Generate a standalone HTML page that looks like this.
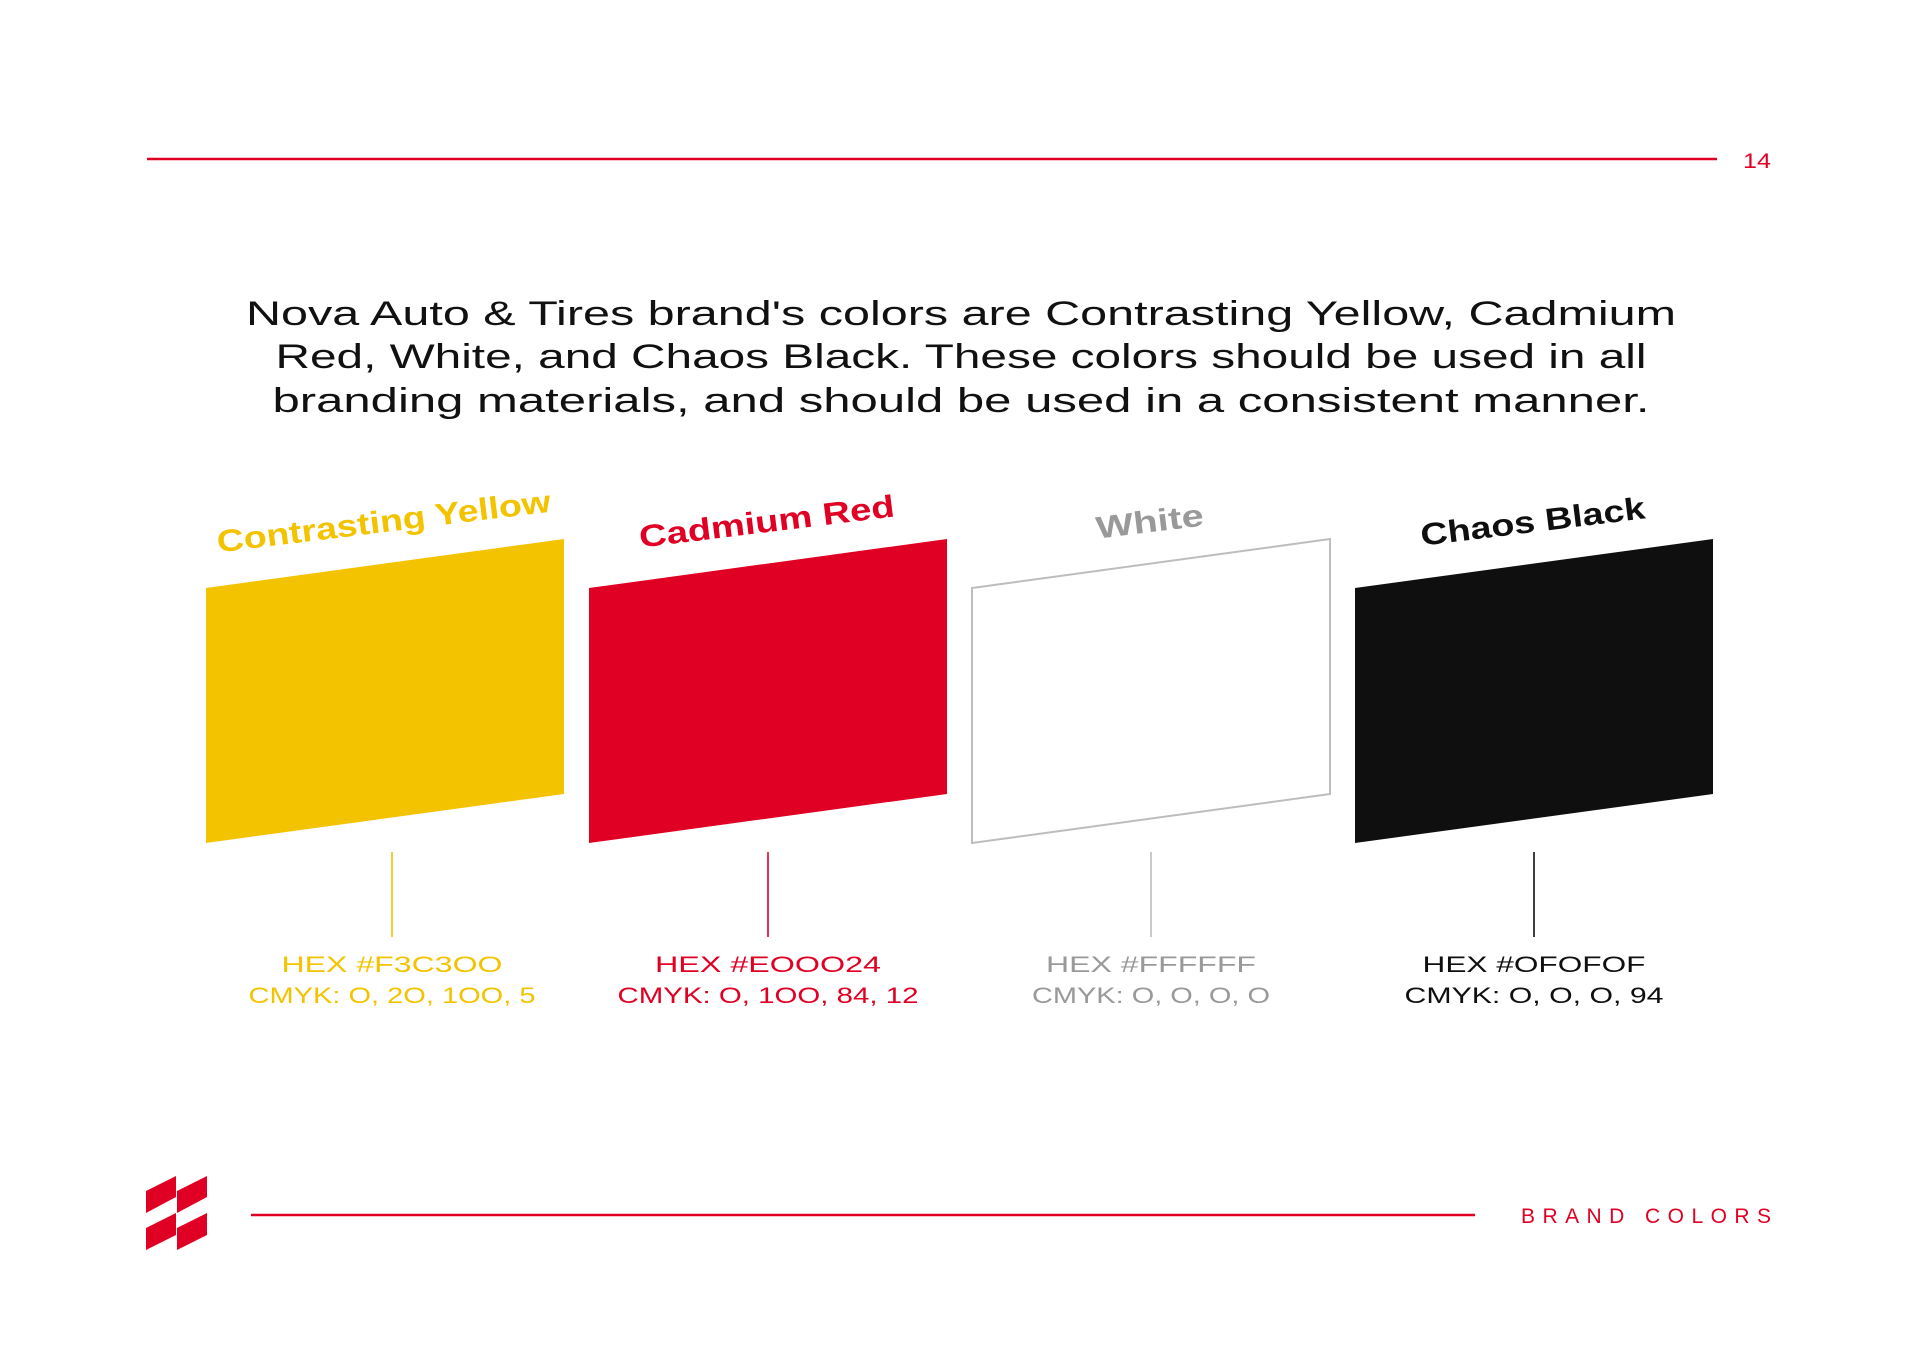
<!DOCTYPE html>
<html><head><meta charset="utf-8"><style>
html,body{margin:0;padding:0;background:#fff;}
svg{display:block;}
</style></head><body>
<svg id="page" width="1920" height="1369" viewBox="0 0 1920 1369" xmlns="http://www.w3.org/2000/svg" font-family="'Liberation Sans', sans-serif">
  <line x1="147" y1="159" x2="1717" y2="159" stroke="#E00024" stroke-width="2.5"/>
  <text x="1743" y="168" font-size="21" fill="#E00024" textLength="28" lengthAdjust="spacingAndGlyphs">14</text>

  <g font-size="34" fill="#111" text-anchor="middle">
    <text x="961" y="325" textLength="1430" lengthAdjust="spacingAndGlyphs">Nova Auto &amp; Tires brand's colors are Contrasting Yellow, Cadmium</text>
    <text x="961" y="368" textLength="1371" lengthAdjust="spacingAndGlyphs">Red, White, and Chaos Black. These colors should be used in all</text>
    <text x="961" y="412" textLength="1377" lengthAdjust="spacingAndGlyphs">branding materials, and should be used in a consistent manner.</text>
  </g>

  <g id="swatches"></g>

  <g fill="#E00024">
    <polygon points="146,1191 176,1176 176,1197 146,1213"/>
    <polygon points="177,1191 207,1176 207,1197 177,1213"/>
    <polygon points="146,1228 176,1213 176,1235 146,1250"/>
    <polygon points="177,1228 207,1213 207,1235 177,1250"/>
  </g>
  <line x1="251" y1="1215" x2="1475" y2="1215" stroke="#E00024" stroke-width="2.5"/>
  <text x="1521" y="1223" font-size="21" fill="#E00024" textLength="250" lengthAdjust="spacing">BRAND COLORS</text>
</svg>
<script>
const names = ['Contrasting Yellow', 'Cadmium Red', 'White', 'Chaos Black'];
const hexes = ['#F3C300', '#E00024', '#FFFFFF', '#0F0F0F'];
const cmyks = ['0, 20, 100, 5', '0, 100, 84, 12', '0, 0, 0, 0', '0, 0, 0, 94'];
const textColors = ['#F3C300', '#E00024', '#999999', '#0F0F0F'];
const titleWidths = [336, 257, 108, 226];
const hexWidths = [221, 226, 210, 223];
const cmykWidths = [287, 301, 238, 259];

const NS = 'http://www.w3.org/2000/svg';
const g = document.getElementById('swatches');
function xPos(i){ return 206 + i * 383; }
function mk(tag, attrs){ const e=document.createElementNS(NS,tag); for(const k in attrs) e.setAttribute(k,attrs[k]); return e; }

names.forEach((nm,i)=>{
  const x0 = xPos(i), w = 358, cx = x0 + w/2;
  const sx = cx + (i === 0 ? 7 : 0);
  const isWhite = hexes[i] === '#FFFFFF';
  const poly = mk('polygon',{points:`${x0},588 ${x0+w},539 ${x0+w},794 ${x0},843`,
    fill: hexes[i], stroke: isWhite ? '#BDBDBD' : 'none', 'stroke-width': isWhite ? 2 : 0});
  
  
  g.appendChild(poly);

  const t = mk('text',{x:cx, y:532, 'font-size':31, 'font-weight':'bold', fill:textColors[i],
    'text-anchor':'middle', textLength:titleWidths[i], lengthAdjust:'spacingAndGlyphs',
    transform:`rotate(-7 ${cx} 532)`});
  t.textContent = nm;
  
  
  g.appendChild(t);

  const stem = mk('line',{x1:sx, y1:852, x2:sx, y2:937, stroke: isWhite ? '#BDBDBD' : hexes[i], 'stroke-width':1.6});
  
  
  g.appendChild(stem);

  const h = mk('text',{x:sx, y:972, 'font-size':22, fill:textColors[i], 'text-anchor':'middle',
    textLength:hexWidths[i], lengthAdjust:'spacingAndGlyphs'});
  h.textContent = 'HEX ' + hexes[i].replace(/0/g,'O');
  
  
  g.appendChild(h);

  const c = mk('text',{x:sx, y:1003, 'font-size':22, fill:textColors[i], 'text-anchor':'middle',
    textLength:cmykWidths[i], lengthAdjust:'spacingAndGlyphs'});
  c.textContent = 'CMYK: ' + cmyks[i].replace(/0/g,'O');
  
  
  g.appendChild(c);
});
</script>
</body></html>
